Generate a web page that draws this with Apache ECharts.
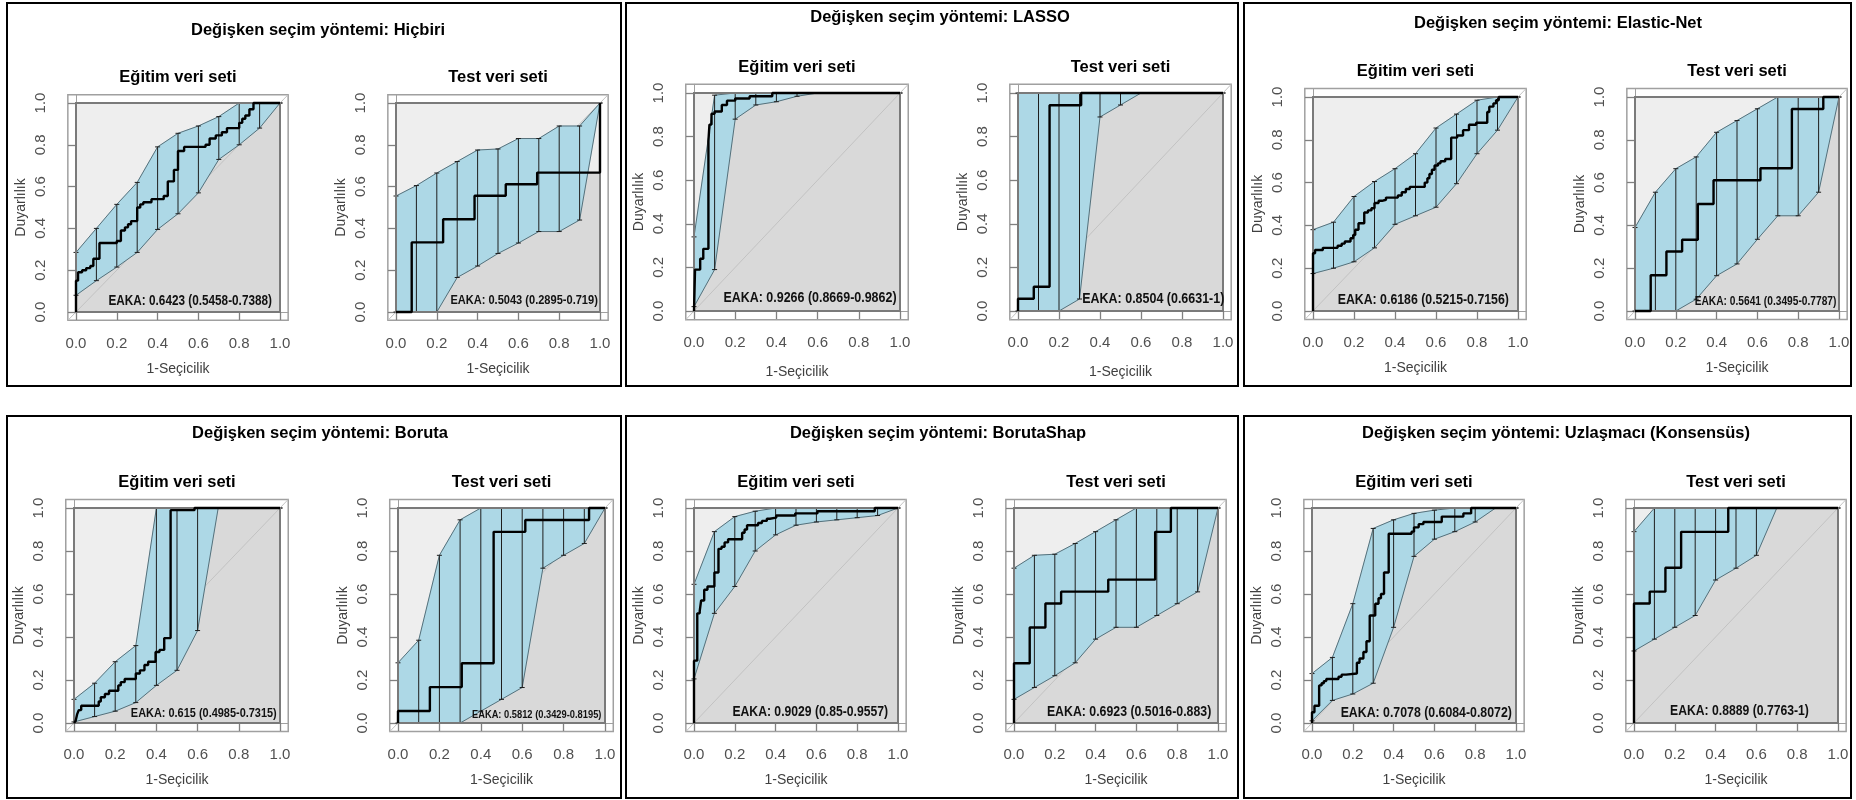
<!DOCTYPE html>
<html>
<head>
<meta charset="utf-8">
<script src="https://cdn.jsdelivr.net/npm/echarts@6/dist/echarts.min.js"></script>
<style>html,body{margin:0;padding:0;background:#fff;}#c{width:1856px;height:800px;}</style>
</head>
<body>
<div id="c"></div>
<script>
// ---------- DATA ----------
const tickValues = [0, 0.2, 0.4, 0.6, 0.8, 1.0];
const ciX = [0, 0.1, 0.2, 0.3, 0.4, 0.5, 0.6, 0.7, 0.8, 0.9, 1.0];

const panelTitles = ['Değişken seçim yöntemi: Hiçbiri', 'Değişken seçim yöntemi: LASSO', 'Değişken seçim yöntemi: Elastic-Net',
  'Değişken seçim yöntemi: Boruta', 'Değişken seçim yöntemi: BorutaShap', 'Değişken seçim yöntemi: Uzlaşmacı (Konsensüs)'];
const subTitles = ['Eğitim veri seti', 'Test veri seti'];
const xName = '1-Seçicilik';
const yName = 'Duyarlılık';

const aucLabels = [
  'EAKA: 0.6423 (0.5458-0.7388)', 'EAKA: 0.5043 (0.2895-0.719)',
  'EAKA: 0.9266 (0.8669-0.9862)', 'EAKA: 0.8504 (0.6631-1)',
  'EAKA: 0.6186 (0.5215-0.7156)', 'EAKA: 0.5641 (0.3495-0.7787)',
  'EAKA: 0.615 (0.4985-0.7315)', 'EAKA: 0.5812 (0.3429-0.8195)',
  'EAKA: 0.9029 (0.85-0.9557)', 'EAKA: 0.6923 (0.5016-0.883)',
  'EAKA: 0.7078 (0.6084-0.8072)', 'EAKA: 0.8889 (0.7763-1)'
];

// Hiçbiri
const hicbiriTrainUpper = [0.285,0.40,0.515,0.62,0.79,0.855,0.89,0.935,1.0,1.0,1.0];
const hicbiriTrainLower = [0.08,0.15,0.215,0.285,0.395,0.47,0.57,0.73,0.80,0.88,1.0];
const hicbiriTrainRoc = [[0,0],[0,0.15],[0.01,0.15],[0.01,0.19],[0.03,0.19],[0.03,0.2],[0.05,0.2],[0.05,0.21],[0.07,0.21],[0.07,0.22],[0.085,0.22],[0.085,0.255],[0.115,0.255],[0.115,0.33],[0.2,0.33],[0.2,0.34],[0.22,0.34],[0.22,0.39],[0.24,0.39],[0.24,0.405],[0.255,0.405],[0.255,0.42],[0.27,0.42],[0.27,0.435],[0.3,0.435],[0.3,0.5],[0.315,0.5],[0.315,0.515],[0.33,0.515],[0.33,0.525],[0.37,0.525],[0.37,0.54],[0.43,0.54],[0.43,0.555],[0.45,0.555],[0.45,0.625],[0.48,0.625],[0.48,0.68],[0.5,0.68],[0.5,0.77],[0.53,0.77],[0.53,0.79],[0.635,0.79],[0.635,0.80],[0.655,0.80],[0.655,0.83],[0.685,0.83],[0.685,0.845],[0.715,0.845],[0.715,0.86],[0.74,0.86],[0.74,0.88],[0.8,0.88],[0.8,0.905],[0.815,0.905],[0.815,0.925],[0.83,0.925],[0.83,0.94],[0.85,0.94],[0.85,0.97],[0.87,0.97],[0.87,1.0],[1,1]];
const hicbiriTestUpper = [0.555,0.605,0.665,0.72,0.775,0.78,0.83,0.83,0.89,0.89,1.0];
const hicbiriTestLower = [0,0,0,0.165,0.22,0.28,0.33,0.385,0.385,0.44,1.0];
const hicbiriTestRoc = [[0,0],[0.077,0],[0.077,0.333],[0.231,0.333],[0.231,0.444],[0.385,0.444],[0.385,0.556],[0.538,0.556],[0.538,0.611],[0.692,0.611],[0.692,0.667],[1,0.667],[1,1]];

// LASSO
const lassoTrainUpper = [0.34,0.99,1,1,1,1,1,1,1,1,1];
const lassoTrainLower = [0.02,0.19,0.88,0.945,0.96,0.985,1,1,1,1,1];
const lassoTrainRoc = [[0,0],[0.005,0],[0.005,0.19],[0.03,0.19],[0.03,0.24],[0.045,0.24],[0.045,0.285],[0.07,0.285],[0.07,0.78],[0.075,0.78],[0.075,0.855],[0.085,0.855],[0.085,0.905],[0.1,0.905],[0.1,0.915],[0.135,0.915],[0.135,0.945],[0.16,0.945],[0.16,0.965],[0.2,0.965],[0.2,0.975],[0.27,0.975],[0.27,0.985],[0.38,0.985],[0.38,1],[1,1]];
const lassoTestUpper = [1,1,1,1,1,1,1,1,1,1,1];
const lassoTestLower = [0,0,0,0.055,0.89,0.945,1,1,1,1,1];
const lassoTestRoc = [[0,0],[0,0.056],[0.077,0.056],[0.077,0.111],[0.154,0.111],[0.154,0.944],[0.308,0.944],[0.308,1],[1,1]];

// Elastic-Net
const elasticTrainUpper = [0.38,0.415,0.535,0.605,0.665,0.735,0.855,0.92,0.985,1,1];
const elasticTrainLower = [0.175,0.2,0.23,0.295,0.405,0.445,0.485,0.595,0.735,0.845,1];
const elasticTrainRoc = [[0,0],[0,0.27],[0.01,0.27],[0.01,0.285],[0.048,0.285],[0.048,0.295],[0.12,0.295],[0.12,0.305],[0.14,0.305],[0.14,0.315],[0.155,0.315],[0.155,0.325],[0.183,0.325],[0.183,0.34],[0.196,0.34],[0.196,0.355],[0.206,0.355],[0.206,0.38],[0.222,0.38],[0.222,0.41],[0.25,0.41],[0.25,0.46],[0.268,0.46],[0.268,0.47],[0.285,0.47],[0.285,0.48],[0.3,0.48],[0.3,0.505],[0.32,0.505],[0.32,0.515],[0.337,0.515],[0.337,0.52],[0.356,0.52],[0.356,0.53],[0.414,0.53],[0.414,0.54],[0.433,0.54],[0.433,0.555],[0.453,0.555],[0.453,0.57],[0.472,0.57],[0.472,0.58],[0.545,0.58],[0.545,0.6],[0.558,0.6],[0.558,0.62],[0.568,0.62],[0.568,0.64],[0.58,0.64],[0.58,0.66],[0.593,0.66],[0.593,0.68],[0.61,0.68],[0.61,0.69],[0.622,0.69],[0.622,0.70],[0.645,0.70],[0.645,0.71],[0.674,0.71],[0.674,0.81],[0.703,0.81],[0.703,0.82],[0.732,0.82],[0.732,0.845],[0.761,0.845],[0.761,0.87],[0.796,0.87],[0.796,0.88],[0.85,0.88],[0.85,0.93],[0.86,0.93],[0.86,0.955],[0.88,0.955],[0.88,0.97],[0.893,0.97],[0.893,0.985],[0.906,0.985],[0.906,1],[1,1]];
const elasticTestUpper = [0.39,0.555,0.665,0.72,0.835,0.89,0.945,1,1,1,1];
const elasticTestLower = [0,0,0,0.055,0.165,0.22,0.335,0.445,0.445,0.555,1];
const elasticTestRoc = [[0,0],[0.077,0],[0.077,0.167],[0.154,0.167],[0.154,0.278],[0.231,0.278],[0.231,0.333],[0.308,0.333],[0.308,0.5],[0.385,0.5],[0.385,0.611],[0.615,0.611],[0.615,0.667],[0.769,0.667],[0.769,0.944],[0.923,0.944],[0.923,1],[1,1]];

// Boruta
const borutaTrainUpper = [0.11,0.185,0.285,0.36,1,1,1,1,1,1,1];
const borutaTrainLower = [0.005,0.03,0.055,0.095,0.175,0.245,0.43,1,1,1,1];
const borutaTrainRoc = [[0,0],[0.008,0],[0.008,0.01],[0.015,0.01],[0.015,0.04],[0.023,0.04],[0.023,0.06],[0.035,0.06],[0.035,0.08],[0.12,0.08],[0.12,0.1],[0.13,0.1],[0.13,0.12],[0.15,0.12],[0.15,0.135],[0.17,0.135],[0.17,0.15],[0.215,0.15],[0.215,0.175],[0.227,0.175],[0.227,0.19],[0.246,0.19],[0.246,0.205],[0.3,0.205],[0.3,0.23],[0.32,0.23],[0.32,0.245],[0.342,0.245],[0.342,0.27],[0.36,0.27],[0.36,0.285],[0.396,0.285],[0.396,0.33],[0.415,0.33],[0.415,0.34],[0.438,0.34],[0.438,0.395],[0.469,0.395],[0.469,0.99],[0.585,0.99],[0.585,1],[1,1]];
const borutaTestUpper = [0.28,0.385,0.78,0.945,1,1,1,1,1,1,1];
const borutaTestLower = [0,0,0,0,0.055,0.11,0.165,0.72,0.78,0.835,1];
const borutaTestRoc = [[0,0],[0,0.056],[0.154,0.056],[0.154,0.167],[0.308,0.167],[0.308,0.278],[0.462,0.278],[0.462,0.889],[0.615,0.889],[0.615,0.944],[0.923,0.944],[0.923,1],[1,1]];

// BorutaShap
const borutaShapTrainUpper = [0.645,0.89,0.96,0.985,1,1,1,1,1,1,1];
const borutaShapTrainLower = [0.205,0.51,0.635,0.8,0.875,0.92,0.935,0.945,0.955,0.965,1];
const borutaShapTrainRoc = [[0,0],[0,0.29],[0.016,0.29],[0.016,0.51],[0.028,0.51],[0.028,0.52],[0.035,0.52],[0.035,0.57],[0.05,0.57],[0.05,0.62],[0.066,0.62],[0.066,0.635],[0.1,0.635],[0.1,0.7],[0.12,0.7],[0.12,0.81],[0.135,0.81],[0.135,0.82],[0.15,0.82],[0.15,0.84],[0.167,0.84],[0.167,0.855],[0.236,0.855],[0.236,0.885],[0.248,0.885],[0.248,0.9],[0.26,0.9],[0.26,0.92],[0.314,0.92],[0.314,0.93],[0.333,0.93],[0.333,0.94],[0.357,0.94],[0.357,0.95],[0.372,0.95],[0.372,0.955],[0.403,0.955],[0.403,0.965],[0.496,0.965],[0.496,0.975],[0.605,0.975],[0.605,0.985],[0.886,0.985],[0.886,1],[1,1]];
const borutaShapTestUpper = [0.72,0.78,0.785,0.835,0.89,0.945,1,1,1,1,1];
const borutaShapTestLower = [0.11,0.165,0.22,0.28,0.39,0.445,0.445,0.5,0.555,0.61,1];
const borutaShapTestRoc = [[0,0],[0,0.278],[0.077,0.278],[0.077,0.444],[0.154,0.444],[0.154,0.556],[0.231,0.556],[0.231,0.611],[0.462,0.611],[0.462,0.667],[0.692,0.667],[0.692,0.889],[0.769,0.889],[0.769,1],[1,1]];

// Uzlaşmacı (Konsensüs)
const konsensusTrainUpper = [0.23,0.305,0.555,0.905,0.945,0.975,0.99,1,1,1,1];
const konsensusTrainLower = [0.01,0.105,0.135,0.185,0.445,0.775,0.855,0.89,0.935,1,1];
const konsensusTrainRoc = [[0,0],[0,0.05],[0.012,0.05],[0.012,0.08],[0.035,0.08],[0.035,0.175],[0.047,0.175],[0.047,0.185],[0.058,0.185],[0.058,0.195],[0.07,0.195],[0.07,0.205],[0.13,0.205],[0.13,0.215],[0.145,0.215],[0.145,0.225],[0.167,0.225],[0.167,0.23],[0.22,0.23],[0.22,0.28],[0.233,0.28],[0.233,0.3],[0.252,0.3],[0.252,0.33],[0.267,0.33],[0.267,0.38],[0.283,0.38],[0.283,0.5],[0.31,0.5],[0.31,0.555],[0.326,0.555],[0.326,0.58],[0.338,0.58],[0.338,0.6],[0.353,0.6],[0.353,0.7],[0.376,0.7],[0.376,0.88],[0.488,0.88],[0.488,0.89],[0.5,0.89],[0.5,0.91],[0.523,0.91],[0.523,0.925],[0.546,0.925],[0.546,0.935],[0.636,0.935],[0.636,0.96],[0.742,0.96],[0.742,0.975],[0.78,0.975],[0.78,1],[1,1]];
const konsensusTestUpper = [0.89,1,1,1,1,1,1,1,1,1,1];
const konsensusTestLower = [0.335,0.39,0.445,0.5,0.665,0.72,0.78,1,1,1,1];
const konsensusTestRoc = [[0,0],[0,0.556],[0.077,0.556],[0.077,0.611],[0.154,0.611],[0.154,0.722],[0.231,0.722],[0.231,0.889],[0.462,0.889],[0.462,1],[1,1]];

// ---------- LAYOUT (pixels) ----------
// inner square [left(x=0), right(x=1), top(y=1), bottom(y=0)]
const innerBoxes = [
  [76,280,103,312],[396,600,103,312],
  [694,900,93,311],[1018,1223,93,311],
  [1313,1518,97,311],[1635,1839,97,311],
  [74,280,508,723],[398,605,508,723],
  [694,898,508,723],[1014,1218,508,723],
  [1312,1516,508,723],[1634,1838,508,723]
];
// AUC text anchor (data coords), font size, horizontal squeeze
const aucPlace = [
  [0.56,0.052,14,0.84],[0.628,0.056,13,0.85],
  [0.563,0.057,14,0.89],[0.66,0.055,14,0.89],
  [0.538,0.05,14,0.88],[0.64,0.045,12,0.85],
  [0.63,0.047,13.5,0.81],[0.67,0.04,11.5,0.81],
  [0.57,0.051,14,0.87],[0.564,0.051,14,0.88],
  [0.56,0.047,14,0.88],[0.517,0.054,14,0.87]
];
const panelRects = [[7,3,614,383],[626,3,612,383],[1244,3,607,383],[7,416,614,382],[626,416,612,382],[1244,416,607,382]];
const panelTitleY = [30,17,23,433,433,433];
const panelTitleX = [318,940,1558,320,938,1556];

const FONT = "'Liberation Sans', Arial, Helvetica, sans-serif";

const subplotData = [
  [hicbiriTrainRoc, hicbiriTrainUpper, hicbiriTrainLower], [hicbiriTestRoc, hicbiriTestUpper, hicbiriTestLower],
  [lassoTrainRoc, lassoTrainUpper, lassoTrainLower], [lassoTestRoc, lassoTestUpper, lassoTestLower],
  [elasticTrainRoc, elasticTrainUpper, elasticTrainLower], [elasticTestRoc, elasticTestUpper, elasticTestLower],
  [borutaTrainRoc, borutaTrainUpper, borutaTrainLower], [borutaTestRoc, borutaTestUpper, borutaTestLower],
  [borutaShapTrainRoc, borutaShapTrainUpper, borutaShapTrainLower], [borutaShapTestRoc, borutaShapTestUpper, borutaShapTestLower],
  [konsensusTrainRoc, konsensusTrainUpper, konsensusTrainLower], [konsensusTestRoc, konsensusTestUpper, konsensusTestLower]
];

const grids = [], xAxes = [], yAxes = [], series = [], graphics = [];

panelRects.forEach((r, i) => {
  graphics.push({type:'rect', shape:{x:r[0], y:r[1], width:r[2], height:r[3]}, style:{fill:'none', stroke:'#000', lineWidth:2}, z:100});
  graphics.push({type:'text', x:panelTitleX[i], y:panelTitleY[i], style:{text:panelTitles[i], font:'bold 16.5px ' + FONT, fill:'#000', textAlign:'center', textVerticalAlign:'middle'}, z:100});
});

innerBoxes.forEach((b, i) => {
  const w = b[1] - b[0], h = b[3] - b[2];
  const left = b[0] - 0.04 * w, top = b[2] - 0.04 * h;
  grids.push({left:left, top:top, width:w * 1.08, height:h * 1.08, show:true, borderColor:'#a0a0a0', borderWidth:1.5, backgroundColor:'transparent'});
  graphics.push({type:'text', x:left + w * 0.54, y:top - 17, style:{text:subTitles[i % 2], font:'bold 16.5px ' + FONT, fill:'#000', textAlign:'center', textVerticalAlign:'middle'}, z:100});

  xAxes.push({gridIndex:i, type:'value', min:-0.04, max:1.04,
    axisLine:{show:true, lineStyle:{color:'#a0a0a0', width:1}},
    splitLine:{show:false},
    axisTick:{show:true, customValues:tickValues, length:8, lineStyle:{color:'#808080', width:1.3}},
    axisLabel:{customValues:tickValues, formatter:v => v.toFixed(1), fontSize:15, color:'#505050', margin:16, fontFamily:FONT},
    name:xName, nameLocation:'middle', nameGap:(i===2||i===3)?45:42, nameTextStyle:{fontSize:14, color:'#404040', fontFamily:FONT}
  });
  yAxes.push({gridIndex:i, type:'value', min:-0.04, max:1.04,
    axisLine:{show:true, lineStyle:{color:'#a0a0a0', width:1}},
    splitLine:{show:false},
    axisTick:{show:true, customValues:tickValues, length:8, lineStyle:{color:'#808080', width:1.3}},
    axisLabel:{show:false},
    name:yName, nameLocation:'middle', nameGap:40, nameRotate:90, nameTextStyle:{fontSize:14, color:'#404040', fontFamily:FONT}
  });

  const [roc, up, lo] = subplotData[i];

  // full square (lighter grey)
  series.push({type:'custom', xAxisIndex:i, yAxisIndex:i, z:1, silent:true,
    data:[[0,0,1,1]],
    renderItem:(p, api) => {
      const a = api.coord([api.value(0), api.value(3)]);
      const c = api.coord([api.value(2), api.value(1)]);
      return {type:'rect', shape:{x:a[0], y:a[1], width:c[0]-a[0], height:c[1]-a[1]}, style:{fill:'#eeeeee'}};
    }
  });
  // area under the ROC curve (darker grey)
  series.push({type:'line', xAxisIndex:i, yAxisIndex:i, z:1, silent:true, showSymbol:false, symbol:'none',
    data:roc, lineStyle:{width:0}, areaStyle:{color:'#d9d9d9', opacity:1, origin:0}});
  // diagonal
  series.push({type:'line', xAxisIndex:i, yAxisIndex:i, z:2, silent:true, showSymbol:false, symbol:'none',
    data:[[-0.04,-0.04],[1.04,1.04]], lineStyle:{color:'#c2c2c2', width:1}});
  // CI band segments
  const seg = [];
  for (let k = 0; k < ciX.length - 1; k++) seg.push([ciX[k], lo[k], up[k], ciX[k+1], lo[k+1], up[k+1]]);
  series.push({type:'custom', xAxisIndex:i, yAxisIndex:i, z:3, silent:true, data:seg,
    renderItem:(p, api) => {
      const p1 = api.coord([api.value(0), api.value(2)]);
      const p2 = api.coord([api.value(3), api.value(5)]);
      const p3 = api.coord([api.value(3), api.value(4)]);
      const p4 = api.coord([api.value(0), api.value(1)]);
      return {type:'group', children:[
        {type:'polygon', shape:{points:[p1, p2, p3, p4]}, style:{fill:'#add8e6', stroke:'#add8e6', lineWidth:0.6}},
        {type:'line', shape:{x1:p1[0], y1:p1[1], x2:p2[0], y2:p2[1]}, style:{stroke:'#56707a', lineWidth:1}},
        {type:'line', shape:{x1:p4[0], y1:p4[1], x2:p3[0], y2:p3[1]}, style:{stroke:'#56707a', lineWidth:1}}
      ]};
    }
  });
  // CI bars
  series.push({type:'custom', xAxisIndex:i, yAxisIndex:i, z:4, silent:true,
    data:ciX.map((x, k) => [x, lo[k], up[k]]),
    renderItem:(p, api) => {
      const a = api.coord([api.value(0), api.value(1)]);
      const c = api.coord([api.value(0), api.value(2)]);
      return {type:'group', children:[
        {type:'line', shape:{x1:a[0], y1:a[1], x2:c[0], y2:c[1]}, style:{stroke:'#1e1e1e', lineWidth:1}},
        {type:'line', shape:{x1:a[0]-2.5, y1:a[1], x2:a[0]+2.5, y2:a[1]}, style:{stroke:'#1e1e1e', lineWidth:1}},
        {type:'line', shape:{x1:c[0]-2.5, y1:c[1], x2:c[0]+2.5, y2:c[1]}, style:{stroke:'#1e1e1e', lineWidth:1}}
      ]};
    }
  });
  // inner frame
  series.push({type:'custom', xAxisIndex:i, yAxisIndex:i, z:5, silent:true, data:[[0,0,1,1]],
    renderItem:(p, api) => {
      const a = api.coord([api.value(0), api.value(3)]);
      const c = api.coord([api.value(2), api.value(1)]);
      return {type:'rect', shape:{x:a[0], y:a[1], width:c[0]-a[0], height:c[1]-a[1]}, style:{fill:'none', stroke:'#7a7a7a', lineWidth:2}};
    }
  });
  // ROC curve
  series.push({type:'line', xAxisIndex:i, yAxisIndex:i, z:6, silent:true, showSymbol:false, symbol:'none',
    data:roc, lineStyle:{color:'#000', width:2.4}});
  // AUC text
  const ap = aucPlace[i];
  series.push({type:'custom', xAxisIndex:i, yAxisIndex:i, z:7, silent:true, data:[[ap[0], ap[1]]],
    renderItem:(p, api) => {
      const q = api.coord([api.value(0), api.value(1)]);
      return {type:'text', x:q[0], y:q[1], scaleX:ap[3], scaleY:1,
        style:{text:aucLabels[i], font:'bold ' + ap[2] + 'px ' + FONT, fill:'#111', textAlign:'center', textVerticalAlign:'middle'}};
    }
  });
  // rotated y tick labels (R style, parallel to axis)
  series.push({type:'custom', xAxisIndex:i, yAxisIndex:i, z:7, silent:true, clip:false,
    data:tickValues.map(v => [-0.04, v]),
    renderItem:(p, api) => {
      const q = api.coord([api.value(0), api.value(1)]);
      return {type:'text', x:q[0] - 27, y:q[1], rotation:Math.PI / 2,
        style:{text:api.value(1).toFixed(1), font:'15px ' + FONT, fill:'#505050', textAlign:'center', textVerticalAlign:'middle'}};
    }
  });
});

const chart = echarts.init(document.getElementById('c'), null, {renderer:'canvas'});
chart.setOption({
  backgroundColor:'#fff',
  animation:false,
  grid:grids, xAxis:xAxes, yAxis:yAxes, series:series, graphic:graphics
});
</script>
</body>
</html>
